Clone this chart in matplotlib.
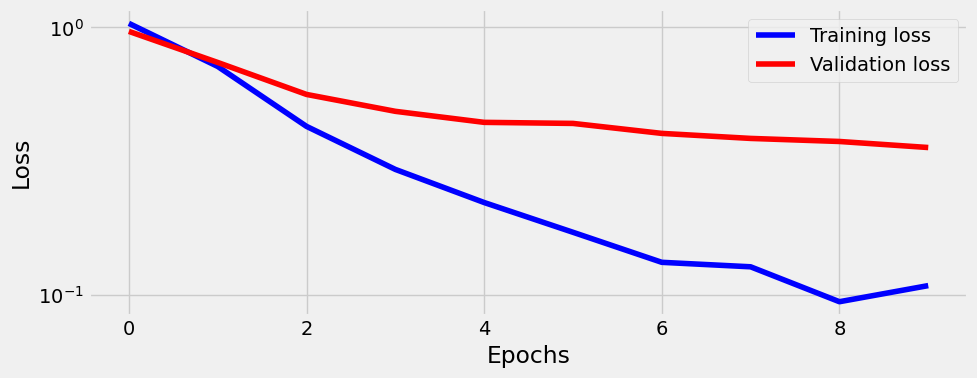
import numpy as np
import matplotlib.pyplot as plt

plt.style.use('fivethirtyeight')

epochs = list(range(10))
train_loss = [1.035, 0.714, 0.426, 0.294, 0.221, 0.171, 0.132, 0.127, 0.094, 0.108]
val_loss = [0.966, 0.739, 0.561, 0.485, 0.441, 0.437, 0.401, 0.384, 0.374, 0.355]

fig, ax = plt.subplots(figsize=(9.77, 3.78), dpi=100)
ax.plot(epochs, train_loss, color='b', label='Training loss')
ax.plot(epochs, val_loss, color='r', label='Validation loss')
ax.set_yscale('log')
ax.set_xlabel('Epochs')
ax.set_ylabel('Loss')
ax.legend(loc='upper right')
fig.subplots_adjust(left=0.091, right=0.991, top=0.975, bottom=0.165)
fig.savefig('out.png')
